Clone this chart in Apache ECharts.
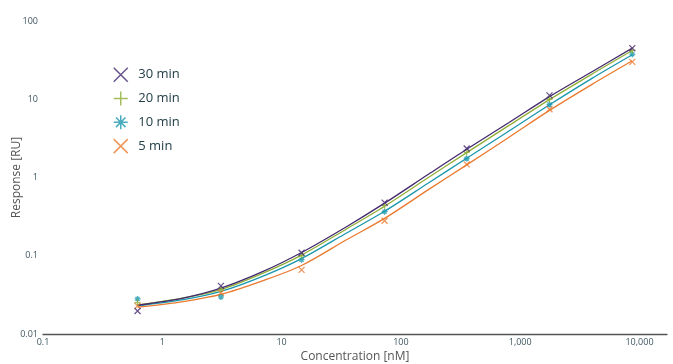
<!DOCTYPE html>
<html>
<head>
<meta charset="utf-8">
<script src="https://cdn.jsdelivr.net/npm/echarts@6/dist/echarts.min.js"></script>
<style>html,body{margin:0;padding:0;background:#fff;}#c{width:673px;height:364px;}</style>
</head>
<body>
<div id="c"></div>
<script>
// Concentrations [nM] of the measured points
const conc = [0.62, 3.1, 14.7, 73, 356, 1760, 8700];
// Measured responses [RU]
const pts30 = [0.0197, 0.0412, 0.109, 0.478, 2.35, 11.2, 45];
const pts20 = [0.0252, 0.0377, 0.100, 0.437, 2.09, 10.0, 42];
const pts10 = [0.0281, 0.0298, 0.089, 0.366, 1.75, 8.6, 37.7];
const pts5  = [0.0229, 0.0336, 0.066, 0.280, 1.47, 7.45, 30];
// Fitted curves at these concentrations
const fitConc = [0.62, 1.5, 3.1, 7, 14.7, 35, 73, 170, 356, 800, 1760, 4000, 8700];
const fit30 = [0.0233, 0.0288, 0.0385, 0.063, 0.11, 0.235, 0.47, 1.1, 2.3, 5.0, 10.8, 22.5, 45];
const fit20 = [0.0235, 0.029, 0.037, 0.06, 0.102, 0.22, 0.43, 1.0, 2.08, 4.6, 9.9, 21, 42];
const fit10 = [0.023, 0.0275, 0.035, 0.055, 0.092, 0.195, 0.37, 0.85, 1.76, 3.9, 8.5, 18.5, 37];
const fit5  = [0.022, 0.026, 0.032, 0.048, 0.075, 0.16, 0.30, 0.70, 1.45, 3.25, 7.2, 15.5, 31];
const names = ['30 min', '20 min', '10 min', '5 min'];
const xTicks = [0.1, 1, 10, 100, 1000, 10000];
const yTicks = [0.01, 0.1, 1, 10, 100];

const colors = ['#44296f', '#8fae35', '#1a97ad', '#ea7a2e'];
const symX = 'path://M0,0L10,10M10,0L0,10';
const symPlus = 'path://M5,0L5,10M0,5L10,5';
const symAst = 'path://M5,0L5,10M0,5L10,5M1.6,1.6L8.4,8.4M8.4,1.6L1.6,8.4';
const syms = [symX, symPlus, symAst, symX];
const ptsAll = [pts30, pts20, pts10, pts5];
const fitAll = [fit30, fit20, fit10, fit5];

const font = '"Open Sans", "Noto Sans", sans-serif';
const series = [];
for (let i = 3; i >= 0; i--) {
  series.push({
    type: 'line', name: names[i] + ' fit', smooth: 0.3, showSymbol: false, silent: true,
    data: fitConc.map((c, k) => [c, fitAll[i][k]]),
    lineStyle: {color: colors[i], width: 1.3}, z: 2
  });
}
for (let i = 3; i >= 0; i--) {
  series.push({
    type: 'scatter', name: names[i], symbol: syms[i], symbolSize: 6,
    data: conc.map((c, k) => [c, ptsAll[i][k]]),
    itemStyle: {color: 'rgba(0,0,0,0)', borderColor: colors[i], borderWidth: 1.3}, z: 3
  });
}
function isTick(v, ticks) {
  return ticks.some(t => Math.abs(Math.log10(v) - Math.log10(t)) < 1e-6);
}
const chart = echarts.init(document.getElementById('c'));
chart.setOption({
  animation: false,
  textStyle: {fontFamily: font},
  grid: {left: 43, right: 6, top: 21, bottom: 30, containLabel: false, outerBoundsMode: 'none'},
  legend: {
    orient: 'vertical', left: 113, top: 67, padding: 0, itemWidth: 25, itemHeight: 14, itemGap: 8.3,
    textStyle: {fontSize: 13, color: '#24404a', fontFamily: font},
    data: names.map((n, i) => ({
      name: n, icon: syms[i],
      itemStyle: {color: 'rgba(0,0,0,0)', borderColor: colors[i], borderWidth: 1.5}
    }))
  },
  xAxis: {
    type: 'log', min: 0.1, max: 17000,
    name: 'Concentration [nM]', nameLocation: 'middle', nameGap: 17, nameMoveOverlap: false,
    nameTextStyle: {fontSize: 12, color: '#555', fontFamily: font},
    axisLine: {show: true, lineStyle: {color: '#555', width: 1.3}},
    axisTick: {show: false}, splitLine: {show: false},
    axisLabel: {
      fontSize: 9, color: '#3d5560', margin: 4, fontFamily: font,
      formatter: v => isTick(v, xTicks) ? Number(v).toLocaleString('en-US', {maximumFractionDigits: 2}) : ''
    }
  },
  yAxis: {
    type: 'log', min: 0.01, max: 100,
    name: 'Response [RU]', nameLocation: 'middle', nameGap: 20, nameMoveOverlap: false,
    nameTextStyle: {fontSize: 12, color: '#555', fontFamily: font},
    axisLine: {show: false}, axisTick: {show: false}, splitLine: {show: false},
    axisLabel: {
      fontSize: 9, color: '#3d5560', margin: 5, fontFamily: font,
      formatter: v => isTick(v, yTicks) ? String(Number(v.toPrecision(3))) : ''
    }
  },
  series: series
});
</script>
</body>
</html>
